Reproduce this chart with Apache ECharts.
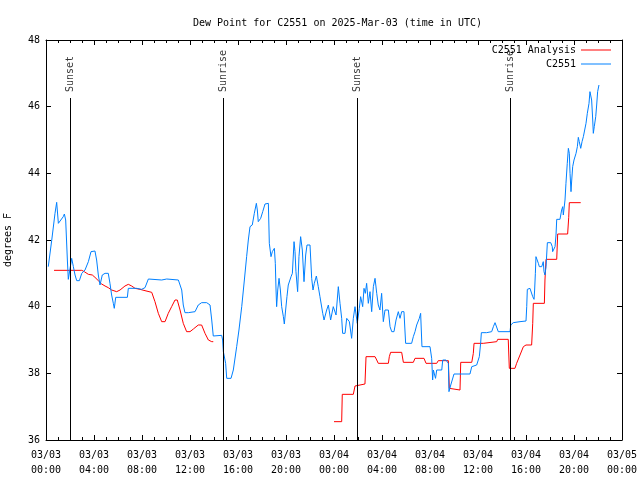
<!DOCTYPE html>
<html>
<head>
<meta charset="utf-8">
<script src="https://cdn.jsdelivr.net/npm/echarts@6/dist/echarts.min.js"></script>
<style>html,body{margin:0;padding:0;background:#fff}#c{width:640px;height:480px}</style>
</head>
<body>
<div id="c"></div>
<script>
// Hours since 03/03 00:00 UTC
const analysisHours = [0.67,2.98,3.19,3.53,3.86,4.08,4.36,4.64,4.92,5.19,5.47,5.61,5.89,6.17,6.58,6.86,7.14,7.42,7.83,8.25,8.39,8.81,9.08,9.36,9.64,9.92,10.19,10.47,10.75,10.94,11.17,11.44,11.72,12.0,12.28,12.69,12.97,13.25,13.53,13.81,13.94,
  null,
  24.0,24.64,24.69,25.61,25.75,25.83,26.58,26.67,27.42,27.56,27.69,28.53,28.61,28.72,29.64,29.78,30.61,30.75,31.5,31.67,32.56,32.69,33.53,33.61,34.5,34.56,35.48,35.61,35.67,36.44,36.58,37.56,37.64,38.52,38.61,39.08,39.22,39.5,39.78,40.0,40.47,40.56,40.61,41.53,41.58,41.67,42.56,42.64,43.47,43.56,43.61,44.56];
const analysisValues = [41.09,41.09,41.05,40.97,40.95,40.88,40.78,40.68,40.62,40.57,40.5,40.45,40.45,40.5,40.62,40.67,40.62,40.55,40.52,40.48,40.43,40.43,40.15,39.8,39.55,39.55,39.8,40.0,40.2,40.2,39.9,39.5,39.25,39.25,39.33,39.45,39.45,39.2,39.0,38.95,38.95,
  null,
  36.55,36.55,37.37,37.37,37.62,37.68,37.68,38.5,38.5,38.4,38.3,38.3,38.5,38.63,38.63,38.33,38.33,38.45,38.45,38.3,38.3,38.38,38.38,37.55,37.5,38.33,38.33,38.6,38.9,38.9,38.92,38.95,39.02,39.02,38.15,38.15,38.3,38.55,38.8,38.85,38.85,39.5,40.1,40.1,40.8,41.42,41.42,42.18,42.18,42.68,43.12,43.12];

const stationHours = [0.19,0.48,0.75,0.89,1.03,1.17,1.44,1.53,1.64,1.78,1.86,2.0,2.14,2.28,2.42,2.56,2.78,2.98,3.25,3.53,3.75,4.08,4.22,4.36,4.5,4.69,4.92,5.19,5.33,5.47,5.61,5.69,5.81,6.78,6.86,7.56,7.97,8.25,8.53,9.64,10.06,11.03,11.17,11.31,11.44,11.58,11.86,12.0,12.42,12.69,12.97,13.39,13.67,13.81,13.94,14.64,14.72,14.78,14.97,15.06,15.42,15.61,15.89,16.08,16.31,16.53,16.72,16.86,17.0,17.19,17.36,17.53,17.61,17.69,17.89,18.06,18.25,18.53,18.61,18.75,18.86,19.03,19.11,19.17,19.22,19.31,19.42,19.53,19.64,19.78,19.86,19.97,20.08,20.19,20.42,20.53,20.67,20.75,20.83,20.97,21.08,21.22,21.36,21.5,21.64,21.75,22.0,22.14,22.25,22.36,22.53,22.69,22.83,23.06,23.17,23.39,23.53,23.72,23.94,24.17,24.36,24.5,24.64,24.72,24.92,25.06,25.28,25.47,25.61,25.75,25.94,26.11,26.22,26.39,26.5,26.61,26.72,26.86,27.0,27.14,27.28,27.42,27.56,27.69,27.83,27.97,28.11,28.25,28.53,28.67,28.81,29.0,29.17,29.36,29.5,29.64,29.83,29.97,30.47,30.61,30.75,30.89,31.11,31.22,31.33,32.0,32.14,32.22,32.28,32.36,32.46,32.56,32.98,33.06,33.33,33.53,33.58,33.73,33.89,34.0,35.33,35.48,35.89,36.11,36.22,36.28,36.72,37.14,37.28,37.42,37.56,37.69,38.67,38.73,38.94,39.5,40.0,40.06,40.11,40.33,40.47,40.56,40.67,40.72,40.78,40.83,40.94,41.03,41.11,41.31,41.44,41.5,41.58,41.67,41.78,42.06,42.19,42.22,42.33,42.42,42.5,42.56,42.83,42.97,43.06,43.11,43.25,43.33,43.44,43.53,43.61,43.67,43.75,43.81,43.89,44.0,44.08,44.17,44.28,44.36,44.44,44.56,44.67,44.78,44.89,45.0,45.11,45.25,45.33,45.42,45.47,45.56,45.61,45.69,45.81,45.89,45.97,46.08];
const stationValues = [41.2,42.0,42.8,43.13,42.5,42.45,42.7,42.78,42.6,41.4,40.82,40.83,41.45,41.2,40.95,40.78,40.78,41.0,41.1,41.35,41.65,41.67,41.4,40.95,40.65,40.95,41.0,41.0,40.7,40.35,40.1,39.95,40.28,40.28,40.55,40.55,40.52,40.57,40.83,40.8,40.83,40.8,40.85,40.5,40.05,39.82,39.82,39.85,39.85,40.05,40.12,40.12,40.05,39.6,39.12,39.14,39.0,38.65,38.3,37.85,37.85,38.1,38.8,39.3,40.0,40.8,41.5,42.0,42.4,42.45,42.8,43.1,42.9,42.55,42.65,42.85,43.08,43.1,41.9,41.5,41.65,41.75,41.3,40.5,40.0,40.5,40.85,40.5,40.0,39.7,39.48,39.9,40.3,40.65,40.9,41.0,41.95,41.65,41.05,40.45,41.5,42.1,41.7,40.75,41.55,41.85,41.85,40.85,40.5,40.7,40.92,40.6,40.3,39.8,39.6,39.9,40.05,39.6,40.0,39.75,40.6,40.1,39.65,39.2,39.2,39.65,39.55,39.05,39.65,40.0,39.5,39.95,40.3,40.0,40.55,40.4,40.7,40.1,40.45,39.85,40.6,40.85,40.4,40.05,39.9,40.4,39.55,39.9,39.9,39.4,39.25,39.25,39.6,39.85,39.65,39.85,39.85,38.9,38.9,39.1,39.25,39.45,39.65,39.8,38.8,38.8,38.45,37.8,38.1,38.1,37.85,38.1,38.1,38.4,38.4,38.3,37.45,37.65,37.65,37.98,37.98,38.2,38.25,38.5,38.9,39.22,39.22,39.25,39.4,39.52,39.52,39.25,39.25,39.45,39.52,39.55,39.57,40.0,40.52,40.55,40.5,40.3,40.22,40.5,41.0,41.5,41.5,41.3,41.2,41.2,41.35,41.05,40.95,41.2,41.92,41.92,41.8,41.65,41.65,41.8,42.15,42.62,42.62,42.9,43.0,42.75,43.2,43.7,44.3,44.75,44.6,44.0,43.45,43.8,44.2,44.4,44.4,44.6,44.8,45.08,44.95,44.75,44.95,45.1,45.3,45.5,45.8,46.1,46.45,46.5,46.2,45.6,45.2,45.4,45.7,46.05,46.45,46.65];

const sunHours = [2.0, 14.77, 25.93, 38.72];
const sunLabels = ['Sunset', 'Sunrise', 'Sunset', 'Sunrise'];
const dayLabels = ['03/03', '03/04', '03/05'];

const FONT = 'DejaVu Sans Mono';
const pair = (hs, vs) => hs.map((h, i) => (h === null ? [null, null] : [h, vs[i]]));

const chart = echarts.init(document.getElementById('c'), null, {renderer: 'canvas'});
const axisCommon = {
  min: 0, max: 48, interval: 4, type: 'value',
  axisLine: {show: true, onZero: false, lineStyle: {color: '#000', width: 1}},
  axisTick: {show: true, inside: true, length: 5, lineStyle: {color: '#000'}},
  minorTick: {show: true, splitNumber: 4, length: 3, lineStyle: {color: '#000'}},
  splitLine: {show: false}
};
const yCommon = {
  min: 36, max: 48, interval: 2, type: 'value',
  axisLine: {show: true, onZero: false, lineStyle: {color: '#000', width: 1}},
  axisTick: {show: true, inside: true, length: 5, lineStyle: {color: '#000'}},
  splitLine: {show: false}
};
chart.setOption({
  animation: false,
  backgroundColor: '#fff',
  title: {
    text: 'Dew Point for C2551 on 2025-Mar-03 (time in UTC)',
    left: 188, top: 13,
    textStyle: {fontFamily: FONT, fontSize: 10, fontWeight: 'normal', color: '#000'}
  },
  legend: [
    {data: ['C2551 Analysis'], right: 29, top: 45, align: 'right', icon: 'rect', itemWidth: 30, itemHeight: 1,
     textStyle: {fontFamily: FONT, fontSize: 10, color: '#000'}, padding: 0},
    {data: ['C2551'], right: 29, top: 59, align: 'right', icon: 'rect', itemWidth: 30, itemHeight: 1,
     textStyle: {fontFamily: FONT, fontSize: 10, color: '#000'}, padding: 0}
  ],
  grid: {left: 46, right: 18, top: 40, bottom: 40, containLabel: false, outerBoundsMode: 'none'},
  xAxis: [
    Object.assign({}, axisCommon, {
      position: 'bottom',
      axisLabel: {
        fontFamily: FONT, fontSize: 10, color: '#000', margin: 8, lineHeight: 15,
        formatter: v => {
          const d = Math.floor(v / 24);
          const hh = v % 24;
          return dayLabels[d] + '\n' + (hh < 10 ? '0' : '') + hh + ':00';
        }
      }
    }),
    Object.assign({}, axisCommon, {position: 'top', axisLabel: {show: false}})
  ],
  yAxis: [
    Object.assign({}, yCommon, {
      position: 'left',
      name: 'degrees F', nameLocation: 'middle', nameGap: 33,
      nameTextStyle: {fontFamily: FONT, fontSize: 10, color: '#000'},
      axisLabel: {fontFamily: FONT, fontSize: 10, color: '#000', margin: 6}
    }),
    Object.assign({}, yCommon, {position: 'right', axisLabel: {show: false}})
  ],
  series: [
    {
      name: 'sun', type: 'scatter', symbolSize: 0, silent: true, z: 1,
      data: sunHours.map((h, i) => ({value: [h, 46.44], name: sunLabels[i]})),
      label: {
        show: true, position: 'inside', rotate: 90, align: 'left', verticalAlign: 'middle',
        formatter: p => p.name,
        fontFamily: FONT, fontSize: 10, color: '#000'
      },
      markLine: {
        silent: true, symbol: ['none', 'none'], label: {show: false},
        lineStyle: {color: '#000', width: 1, type: 'solid'},
        data: sunHours.map(h => [{coord: [h, 36]}, {coord: [h, 46.26]}])
      }
    },
    {
      name: 'C2551 Analysis', type: 'line', showSymbol: false, symbol: 'none',
      lineStyle: {color: '#ff0000', width: 1}, itemStyle: {color: '#ff0000'},
      connectNulls: false, z: 3,
      data: pair(analysisHours, analysisValues)
    },
    {
      name: 'C2551', type: 'line', showSymbol: false, symbol: 'none',
      lineStyle: {color: '#0080ff', width: 1}, itemStyle: {color: '#0080ff'}, z: 4,
      data: pair(stationHours, stationValues)
    }
  ]
});
</script>
</body>
</html>
